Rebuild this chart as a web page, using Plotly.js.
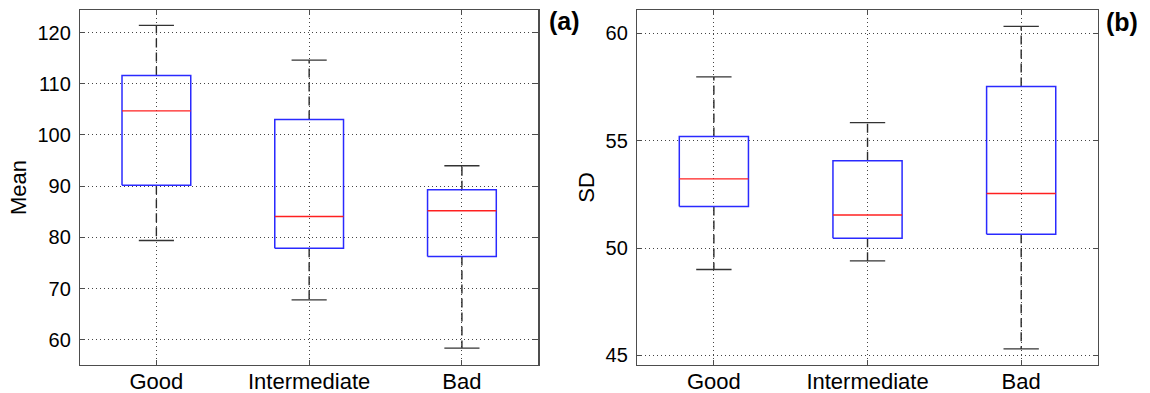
<!DOCTYPE html>
<html>
<head>
<meta charset="utf-8">
<script src="https://cdn.plot.ly/plotly-3.0.1.min.js"></script>
<style>
  html, body { margin: 0; padding: 0; background: #fff; }
  #chart { width: 1150px; height: 393px; }
</style>
</head>
<body>
<div id="chart"></div>
<script>
// ---- data ----
const categories = ["Good", "Intermediate", "Bad"];

// Panel (a): Mean
const meanLower  = [79.4, 67.8, 58.4];
const meanQ1     = [90.2, 77.9, 76.3];
const meanMedian = [104.7, 84.1, 85.2];
const meanQ3     = [111.6, 103.0, 89.3];
const meanUpper  = [121.4, 114.6, 94.0];

// Panel (b): SD
const sdLower  = [49.0, 49.4, 45.3];
const sdQ1     = [51.93, 50.45, 50.64];
const sdMedian = [53.22, 51.54, 52.54];
const sdQ3     = [55.2, 54.07, 57.52];
const sdUpper  = [57.97, 55.84, 60.33];

// ---- styles ----
const BOX_HALF = 0.225;   // half box width (category units)
const CAP_HALF = 0.115;   // half whisker-cap width
const FONT = "Liberation Sans, Arial, sans-serif";
const FRAME = "#4d4d4d";

function boxTraces(lower, q1, med, q3, upper, xa, ya) {
  const pos = categories.map((c, i) => i + 1);
  const bx = [], by = [], mx = [], my = [], wx = [], wy = [], cx = [], cy = [];
  pos.forEach((p, i) => {
    bx.push(p - BOX_HALF, p + BOX_HALF, p + BOX_HALF, p - BOX_HALF, p - BOX_HALF, null);
    by.push(q1[i], q1[i], q3[i], q3[i], q1[i], null);
    mx.push(p - BOX_HALF, p + BOX_HALF, null);
    my.push(med[i], med[i], null);
    wx.push(p, p, null, p, p, null);
    wy.push(q3[i], upper[i], null, q1[i], lower[i], null);
    cx.push(p - CAP_HALF, p + CAP_HALF, null, p - CAP_HALF, p + CAP_HALF, null);
    cy.push(upper[i], upper[i], null, lower[i], lower[i], null);
  });
  const common = { type: "scatter", mode: "lines", xaxis: xa, yaxis: ya,
                   hoverinfo: "skip", showlegend: false, connectgaps: false };
  return [
    Object.assign({}, common, { x: wx, y: wy, line: { color: "#2b2b2b", width: 1.4, dash: "9px,5px" } }),
    Object.assign({}, common, { x: cx, y: cy, line: { color: "#333333", width: 1.3 } }),
    Object.assign({}, common, { x: bx, y: by, line: { color: "#2a2aff", width: 1.5 } }),
    Object.assign({}, common, { x: mx, y: my, line: { color: "#ff2020", width: 1.4 } })
  ];
}

const data = [].concat(
  boxTraces(meanLower, meanQ1, meanMedian, meanQ3, meanUpper, "x", "y"),
  boxTraces(sdLower, sdQ1, sdMedian, sdQ3, sdUpper, "x2", "y2")
);

function xAxis(domain, anchor) {
  return {
    domain: domain, anchor: anchor, range: [0.5, 3.5],
    tickvals: [1, 2, 3], ticktext: categories,
    ticks: "inside", ticklen: 5, tickcolor: FRAME, tickwidth: 1,
    showline: true, linecolor: FRAME, linewidth: 1.2, mirror: "ticks",
    showgrid: true, gridcolor: "#444444", gridwidth: 1, griddash: "1px,3px",
    zeroline: false, fixedrange: true, ticklabelstandoff: -4,
    tickfont: { family: FONT, size: 22, color: "#000" }
  };
}
function yAxis(range, tickvals, title, anchor) {
  return {
    domain: [0, 1], anchor: anchor, range: range, tickvals: tickvals,
    ticks: "inside", ticklen: 5, tickcolor: FRAME, tickwidth: 1,
    showline: true, linecolor: FRAME, linewidth: 1.2, mirror: "ticks",
    showgrid: true, gridcolor: "#444444", gridwidth: 1, griddash: "1px,3px",
    zeroline: false, fixedrange: true, ticklabelstandoff: 4,
    tickfont: { family: FONT, size: 20, color: "#000" },
    title: { text: title, font: { family: FONT, size: 22, color: "#000" }, standoff: 4 }
  };
}

const layout = {
  width: 1150, height: 393,
  margin: { l: 80, r: 52, t: 10, b: 28 },
  paper_bgcolor: "#fff", plot_bgcolor: "#fff",
  xaxis: xAxis([0, 0.4502], "y"),
  yaxis: yAxis([55.1, 124.4], [60, 70, 80, 90, 100, 110, 120], "Mean", "x"),
  xaxis2: xAxis([0.5472, 1], "y2"),
  yaxis2: yAxis([44.55, 61.09], [45, 50, 55, 60], "SD", "x2"),
  annotations: [
    { text: "<b>(a)</b>", xref: "paper", yref: "paper", x: 0.4585, y: 0.968,
      xanchor: "left", yanchor: "middle", showarrow: false,
      font: { family: FONT, size: 25, color: "#000" } },
    { text: "<b>(b)</b>", xref: "paper", yref: "paper", x: 1.006, y: 0.965,
      xanchor: "left", yanchor: "middle", showarrow: false,
      font: { family: FONT, size: 25, color: "#000" } }
  ]
};

Plotly.newPlot("chart", data, layout, { displayModeBar: false, staticPlot: true });
</script>
</body>
</html>
